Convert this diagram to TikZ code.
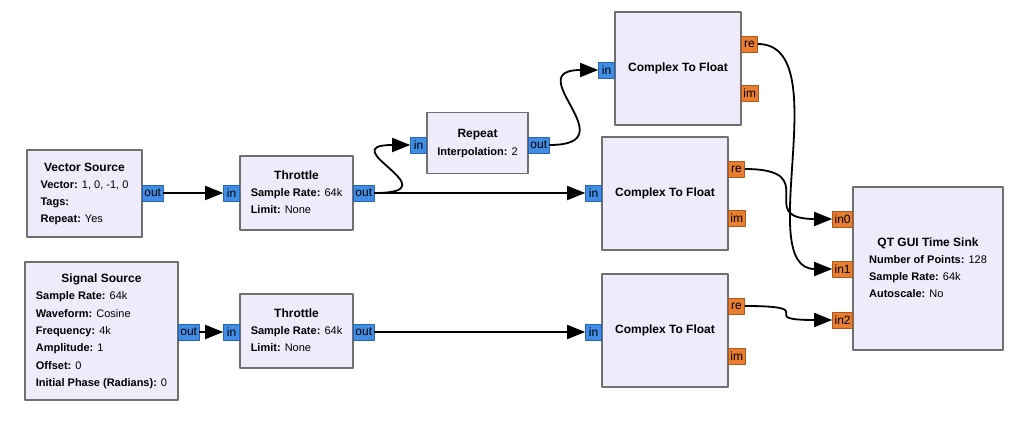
\documentclass[tikz,border=0pt]{standalone}
\usepackage{fontspec}
\setmainfont{Liberation Sans}
\usetikzlibrary{arrows.meta}
\definecolor{blockfill}{RGB}{238,235,251}
\definecolor{blockedge}{RGB}{112,112,112}
\definecolor{cplxport}{RGB}{66,141,228}
\definecolor{cplxedge}{RGB}{40,100,180}
\definecolor{fltport}{RGB}{232,126,48}
\definecolor{fltedge}{RGB}{175,88,30}
\newcommand{\blk}[2]{\begin{tabular}{@{}l@{}}\multicolumn{1}{@{}c@{}}{\fontsize{12}{17.3}\selectfont\bfseries #1}\\#2\end{tabular}}
\newcommand{\prm}[2]{\textbf{#1:} #2}
\begin{document}
\begin{tikzpicture}[x=1pt, y=-1pt, line join=round,
  block/.style={draw=blockedge, fill=blockfill, line width=1.8pt, inner sep=0pt, font=\fontsize{11}{17.3}\selectfont},
  port/.style={line width=0.8pt, minimum height=16pt, minimum width=16pt, inner xsep=2pt, inner ysep=0pt, font=\fontsize{12}{13}\selectfont},
  cin/.style={port, fill=cplxport, draw=cplxedge, anchor=east},
  cout/.style={port, fill=cplxport, draw=cplxedge, anchor=west},
  fin/.style={port, fill=fltport, draw=fltedge, anchor=east},
  fout/.style={port, fill=fltport, draw=fltedge, anchor=west},
  wire/.style={line width=1.8pt, -{Triangle[length=18pt,width=14pt]}}]
  \useasboundingbox (0,0) rectangle (1024,420);
  % blocks
  \node[block, minimum width=115pt, minimum height=87pt] (vecsrc) at (84.5,193.5)
    {\blk{Vector Source}{\prm{Vector}{1, 0, -1, 0}\\\prm{Tags}{}\\\prm{Repeat}{Yes}}};
  \node[block, minimum width=153pt, minimum height=138pt] (sigsrc) at (101.5,331)
    {\blk{Signal Source}{\prm{Sample Rate}{64k}\\\prm{Waveform}{Cosine}\\\prm{Frequency}{4k}\\\prm{Amplitude}{1}\\\prm{Offset}{0}\\\prm{Initial Phase (Radians)}{0}}};
  \node[block, minimum width=113pt, minimum height=74pt] (thr1) at (296.5,193)
    {\blk{Throttle}{\prm{Sample Rate}{64k}\\\prm{Limit}{None}}};
  \node[block, minimum width=113pt, minimum height=74pt] (thr2) at (296.5,331)
    {\blk{Throttle}{\prm{Sample Rate}{64k}\\\prm{Limit}{None}}};
  \node[block, minimum width=101pt, minimum height=61pt] (rep) at (477.5,143)
    {\blk{Repeat}{\prm{Interpolation}{2}}};
  \foreach \n/\x/\y in {ctf1/678/68.5, ctf2/665/193.5, ctf3/665/330.5}
    \node[block, minimum width=126pt, minimum height=113pt, font=\fontsize{12}{14}\selectfont\bfseries] (\n) at (\x,\y) {Complex To Float};
  \node[block, minimum width=150pt, minimum height=163pt] (qt) at (928,268.5)
    {\blk{QT GUI Time Sink}{\prm{Number of Points}{128}\\\prm{Sample Rate}{64k}\\\prm{Autoscale}{No}}};
  % ports
  \foreach \n/\x/\y in {vecout/142/193, sigout/178/332, thr1out/353/193, thr2out/353/332, repout/528/145}
    \node[cout] (\n) at (\x,\y) {out};
  \foreach \n/\x/\y in {thr1in/240/193, thr2in/240/332, repin/427/145, ctf1in/615/70, ctf2in/602/193, ctf3in/602/332}
    \node[cin] (\n) at (\x,\y) {in};
  \foreach \n/\x/\y/\t in {ctf1re/741/44/re, ctf1im/741/93/im, ctf2re/728/169/re, ctf2im/728/218/im, ctf3re/728/306/re, ctf3im/728/356/im}
    \node[fout] (\n) at (\x,\y) {\t};
  \foreach \n/\y/\t in {qtin0/219/in0, qtin1/269/in1, qtin2/320/in2}
    \node[fin] (\n) at (853,\y) {\t};
  % connections
  \foreach \a/\b in {vecout/thr1in, thr1out/ctf2in, sigout/thr2in, thr2out/ctf3in}
    \draw[wire] (\a) -- (\b);
  \foreach \a/\b in {thr1out/repin, repout/ctf1in, ctf1re/qtin1, ctf2re/qtin0, ctf3re/qtin2}
    \draw[wire] (\a.east) .. controls +(80,0) and +(-80,0) .. (\b.west);
\end{tikzpicture}
\end{document}
